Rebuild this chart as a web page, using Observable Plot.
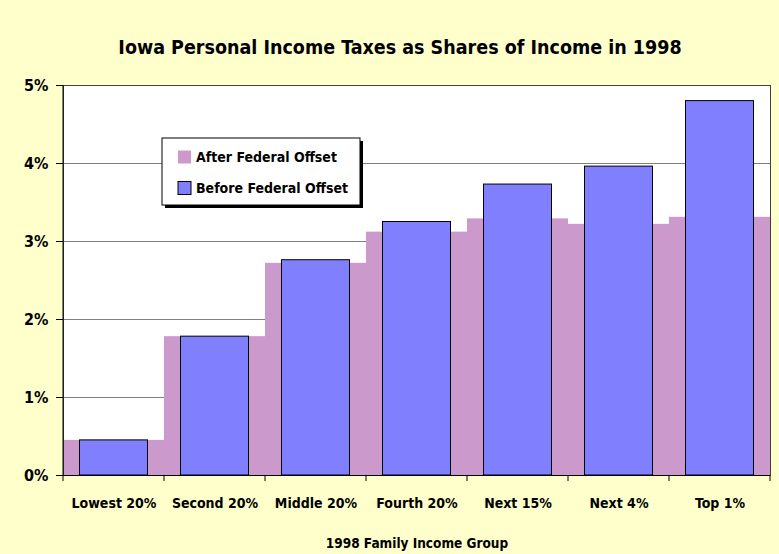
<!DOCTYPE html>
<html>
<head>
<meta charset="utf-8">
<script src="https://cdn.jsdelivr.net/npm/d3@7"></script>
<script src="https://cdn.jsdelivr.net/npm/@observablehq/plot@0.6"></script>
<style>
  html, body { margin: 0; padding: 0; background: #FFFFCC; }
  #chart svg { display: block; }
</style>
</head>
<body>
<div id="chart"></div>
<script>
const categories = ["Lowest 20%", "Second 20%", "Middle 20%", "Fourth 20%", "Next 15%", "Next 4%", "Top 1%"];
const afterOffset = [0.45, 1.78, 2.72, 3.12, 3.29, 3.22, 3.31];
const beforeOffset = [0.45, 1.78, 2.76, 3.25, 3.73, 3.96, 4.80];
const yTicks = [0, 1, 2, 3, 4, 5];
const seriesNames = ["After Federal Offset", "Before Federal Offset"];
const seriesColors = ["#CC99CC", "#8080FF"];
const title = "Iowa Personal Income Taxes as Shares of Income in 1998";
const xTitle = "1998 Family Income Group";

const FONT = "'Liberation Sans Narrow', 'Arial Narrow', 'DejaVu Sans Condensed', sans-serif";

const data = categories.map((c, i) => ({cat: c, after: afterOffset[i], before: beforeOffset[i]}));

const plot = Plot.plot({
  width: 779,
  height: 554,
  marginLeft: 63,
  marginRight: 9,
  marginTop: 85,
  marginBottom: 79,
  style: {background: "#FFFFCC", fontFamily: FONT, fontWeight: "bold", fontSize: "14px", color: "black"},
  x: {domain: categories, padding: 0, axis: null, label: null},
  y: {domain: [0, 5], axis: null, label: null},
  marks: [
    Plot.frame({fill: "white", stroke: "none"}),
    Plot.gridY(yTicks, {stroke: "#808080", strokeOpacity: 1, strokeWidth: 1}),
    Plot.barY(data, {x: "cat", y: "after", fill: seriesColors[0]}),
    Plot.barY(data, {x: "cat", y: "before", fill: seriesColors[1], stroke: "black", strokeWidth: 1, insetLeft: 16.5, insetRight: 16.5}),
    Plot.frame({stroke: "#404040", strokeWidth: 1}),
    Plot.ruleY([0], {stroke: "black", strokeWidth: 1}),
    Plot.axisY(yTicks, {tickFormat: d => d + "%", tickSize: 7, tickPadding: 8, fontSize: 16, fontWeight: "bold", stroke: "black", label: null}),
    Plot.axisX({tickSize: 0, tickPadding: 23, fontSize: 14, fontWeight: "bold", label: null}),
    Plot.text([title], {text: d => d, frameAnchor: "top", dx: -17, dy: -38, fontSize: 19.5, fontWeight: "bold", fill: "black", lineAnchor: "middle"}),
    Plot.text([xTitle], {text: d => d, frameAnchor: "bottom", dy: 68, fontSize: 13.5, fontWeight: "bold", fill: "black", lineAnchor: "middle"})
  ]
});

document.getElementById("chart").appendChild(plot);

// boundary ticks on the x axis and left axis line
const svg = d3.select(plot);
const xs = plot.scale("x");
const ys = plot.scale("y");
const bw = xs.bandwidth;
const y0 = ys.apply(0);
const y5 = ys.apply(5);
const bounds = categories.map(c => xs.apply(c)).concat([xs.apply(categories[categories.length - 1]) + bw]);
const g = svg.append("g");
g.selectAll("line.bt").data(bounds).join("line")
  .attr("x1", d => d).attr("x2", d => d)
  .attr("y1", y0).attr("y2", y0 + 6)
  .attr("stroke", "black");
g.append("line").attr("x1", bounds[0]).attr("x2", bounds[0]).attr("y1", y5).attr("y2", y0).attr("stroke", "black");

// legend
const lx = 162, ly = 138, lw = 198, lh = 67;
const lg = svg.append("g").attr("font-family", FONT).attr("font-weight", "bold").attr("font-size", 14).attr("text-anchor", "start");
lg.append("rect").attr("x", lx + 3).attr("y", ly + 3).attr("width", lw).attr("height", lh).attr("fill", "black");
lg.append("rect").attr("x", lx).attr("y", ly).attr("width", lw).attr("height", lh).attr("fill", "white").attr("stroke", "black");
seriesNames.forEach((name, i) => {
  const cy = ly + 19 + i * 31;
  lg.append("rect").attr("x", lx + 16).attr("y", cy - 6.5).attr("width", 13).attr("height", 13)
    .attr("fill", seriesColors[i]).attr("stroke", i === 1 ? "black" : "none");
  lg.append("text").attr("x", lx + 34).attr("y", cy).attr("dy", "0.35em").attr("text-anchor", "start").attr("fill", "black").text(name);
});
</script>
</body>
</html>
